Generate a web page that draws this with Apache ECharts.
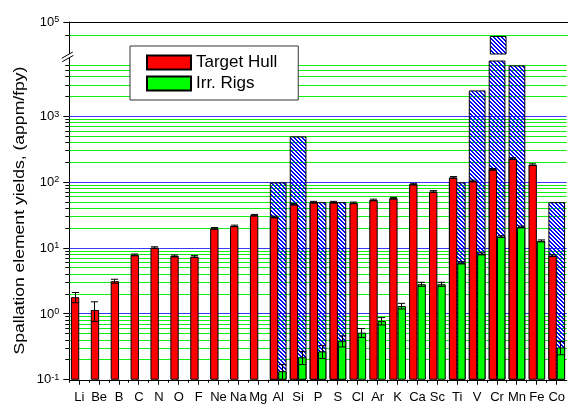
<!DOCTYPE html>
<html>
<head>
<meta charset="utf-8">
<script src="https://cdn.jsdelivr.net/npm/echarts@6/dist/echarts.min.js"></script>
<style>
  html, body { margin: 0; padding: 0; background: #fff; }
  #chart { width: 568px; height: 406px; }
</style>
</head>
<body>
<div id="chart"></div>
<script>
// Spallation element yields per element, appm/fpy
const elements = ['Li','Be','B','C','N','O','F','Ne','Na','Mg','Al','Si','P','S','Cl','Ar','K','Ca','Sc','Ti','V','Cr','Mn','Fe','Co'];

const hullYield = [1.8, 1.15, 3.15, 7.9, 10.2, 7.6, 7.45, 20, 21.8, 31.7, 29.8, 46.6, 50, 50, 48.8, 54, 57.5, 94, 72.7, 119, 105, 158, 230, 186, 7.7];
const hullErr   = [0.32, 0.38, 0.22, 0.25, 0.3, 0.25, 0.25, 0.6, 0.6, 0.9, 0.9, 1.4, 1.5, 1.5, 1.4, 1.6, 1.7, 2.8, 2.2, 3.5, 3.2, 4.7, 7, 5.5, 0.23];

const rigYield = [null, null, null, null, null, null, null, null, null, null, 0.135, 0.22, 0.27, 0.39, 0.52, 0.78, 1.32, 2.83, 2.83, 6.0, 8.2, 15, 21, 12.9, 0.31];
const rigErr   = [null, null, null, null, null, null, null, null, null, null, 0.035, 0.05, 0.06, 0.075, 0.08, 0.1, 0.13, 0.2, 0.2, 0.25, 0.3, 0.5, 0.7, 0.45, 0.07];

// hatched upper-bound bars
const limitYield = [null, null, null, null, null, null, null, null, null, null, 100, 500, 50, 50, null, null, null, null, null, 100, 2500, 50000, 6000, null, 50];

// axis ranges (lower segment and upper segment above the break)
const LOWER_MIN = 0.1, LOWER_MAX = 7000;
const UPPER_MIN = 20000, UPPER_MAX = 100000;
const yDecades = [-1, 0, 1, 2, 3];
const minorSteps = [2, 3, 4, 5, 6, 7, 8, 9];
const upperGridValues = [[50000, 0], [100000, 1]];
const Y_TITLE = 'Spallation element yields, (appm/fpy)';

// layout
const GRID_LEFT = 69.3, GRID_WIDTH = 500;
const LOWER_TOP = 61, LOWER_BOTTOM = 26.25;
const UPPER_TOP = 22, UPPER_BOTTOM = 351.5;
const FONT = '"Liberation Sans", Arial, Helvetica, sans-serif';

const lowerTicks = [];
yDecades.forEach(function (d) {
  const base = Math.pow(10, d);
  lowerTicks.push([0, base, 1]);
  minorSteps.forEach(function (m) {
    const v = +(m * base).toPrecision(6);
    if (v < LOWER_MAX) lowerTicks.push([0, v, 0]);
  });
});
const upperTicks = upperGridValues.map(function (t) { return [0, t[0], t[1]]; });

function hatchPattern() {
  const c = document.createElement('canvas');
  c.width = 4; c.height = 4;
  const g = c.getContext('2d');
  g.fillStyle = '#0000ff';
  for (let y = 0; y < 4; y++) {
    g.fillRect(y, y, 1, 1);
    g.fillRect((y + 1) % 4, y, 1, 1);
  }
  return c;
}
const hatch = { image: hatchPattern(), repeat: 'repeat' };

function powLabel(value) {
  const e = Math.round(Math.log10(value));
  if (Math.abs(Math.log10(value) - e) > 1e-6) return '';
  return '{b|10}{s|' + e + '}';
}
const labelRich = {
  b: { fontSize: 13, fontFamily: FONT, color: '#000', lineHeight: 14 },
  s: { fontSize: 9, fontFamily: FONT, color: '#000', verticalAlign: 'top', lineHeight: 10, padding: [0, 0, 4, 0] }
};

function crisp(v) { return Math.round(v - 0.5) + 0.5; }

// horizontal grid lines + left ticks drawn from the y scale
function gridRender(params, api) {
  const cs = params.coordSys;
  const y = crisp(api.coord([0, api.value(1)])[1]);
  const major = api.value(2) === 1;
  const children = [];
  const atEdge = Math.abs(y - cs.y) < 1 || Math.abs(y - (cs.y + cs.height)) < 1;
  if (!atEdge) {
    children.push({ type: 'line', shape: { x1: cs.x, y1: y, x2: cs.x + cs.width, y2: y },
      style: { stroke: major ? '#3a3aff' : '#11f011', lineWidth: 1 } });
  }
  children.push({ type: 'line', shape: { x1: cs.x - (major ? 6 : 4), y1: y, x2: cs.x, y2: y },
    style: { stroke: '#000', lineWidth: 1 } });
  return { type: 'group', children: children };
}

// x ticks: long at category centres, short at category boundaries
function xTickRender(params, api) {
  const cs = params.coordSys;
  const i = api.value(0);
  const band = api.size([1, 0])[0];
  const cx = crisp(api.coord([i, LOWER_MIN])[0]);
  const bx = crisp(cx - band / 2);
  const yb = cs.y + cs.height;
  const children = [
    { type: 'line', shape: { x1: cx, y1: yb, x2: cx, y2: yb + 5 }, style: { stroke: '#000', lineWidth: 1 } },
    { type: 'line', shape: { x1: bx, y1: yb, x2: bx, y2: yb + 3 }, style: { stroke: '#000', lineWidth: 1 } }
  ];
  return { type: 'group', children: children };
}

function errRender(side) {
  return function (params, api) {
    const i = api.value(0), v = api.value(1), e = api.value(2);
    const band = api.size([1, 0])[0];
    const cx = crisp(api.coord([i, v])[0] + side * band * 0.21);
    const yHi = api.coord([i, v + e])[1];
    const yLo = api.coord([i, Math.max(v - e, LOWER_MIN)])[1];
    const half = band * 0.18;
    const st = { stroke: '#000', lineWidth: 1 };
    return { type: 'group', children: [
      { type: 'line', shape: { x1: cx, y1: yHi, x2: cx, y2: yLo }, style: st },
      { type: 'line', shape: { x1: cx - half, y1: yHi, x2: cx + half, y2: yHi }, style: st },
      { type: 'line', shape: { x1: cx - half, y1: yLo, x2: cx + half, y2: yLo }, style: st }
    ] };
  };
}

const hullErrData = hullYield.map(function (v, i) { return [i, v, hullErr[i]]; });
const rigErrData = [];
rigYield.forEach(function (v, i) { if (v != null) rigErrData.push([i, v, rigErr[i]]); });
const xTickData = elements.map(function (e, i) { return [i, LOWER_MIN]; });
const upperLimit = limitYield.map(function (v) { return v != null && v > LOWER_MAX ? v : null; });

const barBorder = { borderColor: '#000', borderWidth: 1 };

const option = {
  animation: false,
  backgroundColor: '#fff',
  grid: [
    { left: GRID_LEFT, width: GRID_WIDTH, top: LOWER_TOP, bottom: LOWER_BOTTOM },
    { left: GRID_LEFT, width: GRID_WIDTH, top: UPPER_TOP, bottom: UPPER_BOTTOM }
  ],
  legend: {
    data: ['Target Hull', 'Irr. Rigs'],
    orient: 'vertical',
    left: 130, top: 46,
    itemWidth: 44, itemHeight: 14, itemGap: 4,
    padding: [8, 21, 8, 16],
    borderColor: '#333', borderWidth: 1, backgroundColor: '#fff',
    icon: 'rect',
    textStyle: { fontSize: 17, fontFamily: FONT, color: '#000' }
  },
  xAxis: [
    { gridIndex: 0, type: 'category', data: elements, position: 'bottom',
      axisLine: { lineStyle: { color: '#000', width: 1 } },
      axisTick: { show: false },
      axisLabel: { interval: 0, margin: 11, fontSize: 13, fontFamily: FONT, color: '#000' },
      splitLine: { show: false } },
    { gridIndex: 0, type: 'category', data: elements, show: false },
    { gridIndex: 1, type: 'category', data: elements, position: 'top',
      axisLine: { lineStyle: { color: '#000', width: 1 } },
      axisTick: { show: false }, axisLabel: { show: false }, splitLine: { show: false } }
  ],
  yAxis: [
    { gridIndex: 0, type: 'log', logBase: 10, min: LOWER_MIN, max: LOWER_MAX, startValue: LOWER_MIN,
      axisLine: { show: true, lineStyle: { color: '#000', width: 1 } },
      axisTick: { show: false }, splitLine: { show: false },
      axisLabel: { margin: 10, formatter: powLabel, rich: labelRich } },
    { gridIndex: 1, type: 'log', logBase: 10, min: UPPER_MIN, max: UPPER_MAX, startValue: UPPER_MIN,
      axisLine: { show: true, lineStyle: { color: '#000', width: 1 } },
      axisTick: { show: false }, splitLine: { show: false },
      axisLabel: { margin: 10, formatter: powLabel, rich: labelRich } }
  ],
  series: [
    { type: 'custom', name: 'yGridLower', xAxisIndex: 0, yAxisIndex: 0, z: 1, silent: true,
      renderItem: gridRender, data: lowerTicks },
    { type: 'custom', name: 'yGridUpper', xAxisIndex: 2, yAxisIndex: 1, z: 1, silent: true,
      renderItem: gridRender, data: upperTicks },
    { type: 'custom', name: 'xTicks', xAxisIndex: 0, yAxisIndex: 0, z: 1, silent: true,
      renderItem: xTickRender, data: xTickData },
    { type: 'bar', name: 'Limit', xAxisIndex: 1, yAxisIndex: 0, z: 2, barWidth: '84%',
      itemStyle: Object.assign({ color: hatch }, barBorder), data: limitYield },
    { type: 'bar', name: 'LimitUpper', xAxisIndex: 2, yAxisIndex: 1, z: 2, barWidth: '84%',
      itemStyle: Object.assign({ color: hatch }, barBorder), data: upperLimit },
    { type: 'bar', name: 'Target Hull', xAxisIndex: 0, yAxisIndex: 0, z: 3, barWidth: '42%', barGap: '0%',
      itemStyle: Object.assign({ color: '#ff0000' }, barBorder), data: hullYield },
    { type: 'bar', name: 'Irr. Rigs', xAxisIndex: 0, yAxisIndex: 0, z: 3, barWidth: '42%', barGap: '0%',
      itemStyle: Object.assign({ color: '#00ff00' }, barBorder), data: rigYield },
    { type: 'custom', name: 'hullErr', xAxisIndex: 0, yAxisIndex: 0, z: 4, silent: true,
      renderItem: errRender(-1), data: hullErrData },
    { type: 'custom', name: 'rigErr', xAxisIndex: 0, yAxisIndex: 0, z: 4, silent: true,
      renderItem: errRender(1), data: rigErrData }
  ],
  graphic: [
    { type: 'text', x: 20, y: 210.5, rotation: Math.PI / 2, scaleX: 1.17, z: 10,
      style: { text: Y_TITLE, font: '15px ' + FONT, fill: '#000', align: 'center', verticalAlign: 'middle' } },
    // axis break marks
    { type: 'polygon', z: 10, shape: { points: [[61.7, 58.3], [72.3, 52.2], [73.3, 55.4], [62.7, 61.5]] },
      style: { fill: '#fff' } },
    { type: 'line', z: 11, shape: { x1: 61.7, y1: 58.3, x2: 72.8, y2: 52.0 }, style: { stroke: '#000', lineWidth: 1 } },
    { type: 'line', z: 11, shape: { x1: 62.3, y1: 61.7, x2: 73.4, y2: 55.4 }, style: { stroke: '#000', lineWidth: 1 } },
    { type: 'line', z: 9, shape: { x1: 69.5, y1: 54, x2: 69.5, y2: 62 }, style: { stroke: '#000', lineWidth: 1 } }
  ]
};

const chart = echarts.init(document.getElementById('chart'), null, { renderer: 'canvas' });
chart.setOption(option);
</script>
</body>
</html>
